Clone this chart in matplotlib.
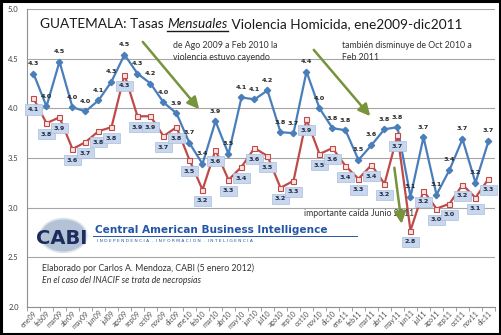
import numpy as np
import matplotlib.pyplot as plt
from matplotlib.patches import Ellipse, Rectangle

months = ['ene', 'feb', 'mar', 'abr', 'may', 'jun', 'jul', 'ago', 'sep', 'oct', 'nov', 'dic']
labels = [m + y for y in ['09', '10', '11'] for m in months]

# serie azul (rombos)
blue = [4.35, 4.02, 4.47, 4.01, 3.97, 4.08, 4.27, 4.54, 4.35, 4.25, 4.06, 3.95,
        3.65, 3.44, 3.87, 3.54, 4.11, 4.09, 4.18, 3.76, 3.75, 4.37, 4.00, 3.80,
        3.78, 3.48, 3.63, 3.79, 3.81, 3.11, 3.71, 3.13, 3.38, 3.69, 3.25, 3.67]
blue_lab = ['4.3', '4.0', '4.5', '4.0', '4.0', '4.1', '4.3', '4.5', '4.3', '4.2', '4.0', '3.9',
            '3.7', '3.4', '3.9', '3.5', '4.1', '4.1', '4.2', '3.8', '3.7', '4.4', '4.0', '3.8',
            '3.8', '3.5', '3.6', '3.8', '3.8', '3.1', '3.7', '3.1', '3.4', '3.7', '3.2', '3.7']

# serie roja (cuadros)
red = [4.10, 3.85, 3.91, 3.59, 3.66, 3.77, 3.81, 4.34, 3.92, 3.92, 3.72, 3.81,
       3.48, 3.18, 3.58, 3.28, 3.41, 3.60, 3.52, 3.20, 3.27, 3.89, 3.54, 3.60,
       3.42, 3.29, 3.43, 3.24, 3.73, 2.77, 3.17, 2.99, 3.04, 3.23, 3.10, 3.29]
red_lab = ['4.1', '3.8', '3.9', '3.6', '3.7', '3.8', '3.8', '4.3', '3.9', '3.9', '3.7', '3.8',
           '3.5', '3.2', '3.6', '3.3', '3.4', '3.6', '3.5', '3.2', '3.3', '3.9', '3.5', '3.6',
           '3.4', '3.3', '3.4', '3.2', '3.7', '2.8', '3.2', '3.0', '3.0', '3.2', '3.1', '3.3']

plt.rcParams['font.family'] = ['Lato', 'DejaVu Sans']

fig = plt.figure(figsize=(5.02, 3.35), dpi=100)
ax = fig.add_axes([27 / 502, 28 / 335, 468 / 502, 298 / 335])

x = np.arange(len(labels))
bcol = '#4A7EBB'
rcol = '#BE4B48'
ax.plot(x, blue, color=bcol, lw=1.6, marker='D', ms=3.2, mfc=bcol, mec=bcol, zorder=3)
ax.plot(x, red, color=rcol, lw=1.6, marker='s', ms=3.6, mfc='#FBE4E4', mec=rcol, mew=0.8, zorder=3)

for i in x:
    ax.annotate(blue_lab[i], (i, blue[i]), xytext=(0, 5.5), textcoords='offset points',
                ha='center', va='bottom', fontsize=4.6, fontweight='bold', color='#262626',
                family='DejaVu Sans', zorder=5)
    ax.annotate(red_lab[i], (i, red[i]), xytext=(0, -8), textcoords='offset points',
                ha='center', va='center', fontsize=4.6, fontweight='bold', color='#1F2A44',
                family='DejaVu Sans', zorder=5,
                bbox=dict(boxstyle='square,pad=0.4', fc='#C8D7EE', ec='#A9BEDD', lw=0.5))

ax.set_xlim(-0.5, 35.5)
ax.set_ylim(2.0, 5.0)
ax.set_yticks(np.arange(2.0, 5.01, 0.5))
ax.set_yticklabels([f'{v:.1f}' for v in np.arange(2.0, 5.01, 0.5)], fontsize=5.5, color='#404040')
ax.set_xticks(x)
ax.set_xticklabels(labels, rotation=45, ha='right', rotation_mode='anchor', fontsize=5, color='#505050')
ax.tick_params(axis='y', length=0, pad=6)
ax.set_xticks(np.arange(-0.5, 36, 1), minor=True)
ax.tick_params(axis='x', which='major', length=0, pad=2)
ax.tick_params(axis='x', which='minor', length=3, color='#909090')
ax.grid(axis='y', color='#A6A6A6', lw=0.8)
ax.set_axisbelow(True)
for s in ['top', 'right']:
    ax.spines[s].set_visible(False)
ax.spines['left'].set_color('#909090')
ax.spines['bottom'].set_color('#909090')

# flechas verdes
green = '#77933C'
arrows = [((8.27, 4.69), (12.88, 3.97)), ((21.42, 4.61), (26.04, 3.90)), ((27.73, 3.43), (28.35, 2.81))]
for a, b in arrows:
    ax.annotate('', xy=b, xytext=a,
                arrowprops=dict(arrowstyle='-|>,head_length=0.7,head_width=0.35', color=green, lw=1.8), zorder=4)

ax.text(10.73, 4.57, 'de Ago 2009 a Feb 2010 la\nviolencia estuvo cayendo', fontsize=6.3,
        color='#333333', va='center', linespacing=1.4)
ax.text(23.73, 4.57, 'también disminuye de Oct 2010 a\nFeb 2011', fontsize=6.3,
        color='#333333', va='center', linespacing=1.4)
ax.text(20.8, 2.94, 'importante caída Junio 2011', fontsize=6.3, color='#333333', va='center')
ax.text(0.65, 2.39, 'Elaborado por Carlos A. Mendoza, CABI (5 enero 2012)', fontsize=6.3,
        color='#333333', va='center')
ax.text(0.65, 2.27, 'En el caso del INACIF se trata de necropsias', fontsize=6.3,
        color='#333333', va='center', style='italic')

# logo CABI
ax.add_patch(Ellipse((2.3, 2.72), 3.6, 0.34, fc='#B4C2D6', ec='#DDE4EE', lw=1.2, zorder=2))
ax.text(0.2, 2.69, 'CABI', fontsize=14, fontweight='heavy', color='#1C2C5E',
        family='DejaVu Sans', va='center', zorder=6)
ax.text(4.75, 2.78, 'Central American Business Intelligence', fontsize=7.6, fontweight='bold',
        color='#2356A6', family='DejaVu Sans', va='center', zorder=6)
ax.plot([4.55, 24.9], [2.715, 2.715], color='#2356A6', lw=0.7, zorder=6)
ax.text(4.9, 2.665, '  .  '.join(' '.join(w) for w in ['INDEPENDENCIA', 'INFORMACION', 'INTELIGENCIA']),
        fontsize=3.2, color='#2356A6', family='DejaVu Sans', va='center', zorder=6)

# titulo con "Mensuales" en cursiva subrayada
r = fig.canvas.get_renderer()
ty = 1 - 28 / 335
tx = 40 / 502
parts = [('GUATEMALA: Tasas ', 'normal'), ('Mensuales', 'italic'), (' Violencia Homicida, ene2009-dic2011', 'normal')]
for txt, st in parts:
    t = fig.text(tx, ty, txt, fontsize=9.8, style=st, color='#1a1a1a', va='baseline', ha='left')
    w = t.get_window_extent(r).width / fig.bbox.width
    if st == 'italic':
        fig.add_artist(plt.Line2D([tx, tx + w], [ty - 2.5 / 335, ty - 2.5 / 335], color='#1a1a1a', lw=1.0))
    tx += w

fig.add_artist(Rectangle((0.002, 0.003), 0.994, 0.993, transform=fig.transFigure, fill=False,
                         ec='black', lw=2.2))

fig.savefig('out.png', dpi=100)
